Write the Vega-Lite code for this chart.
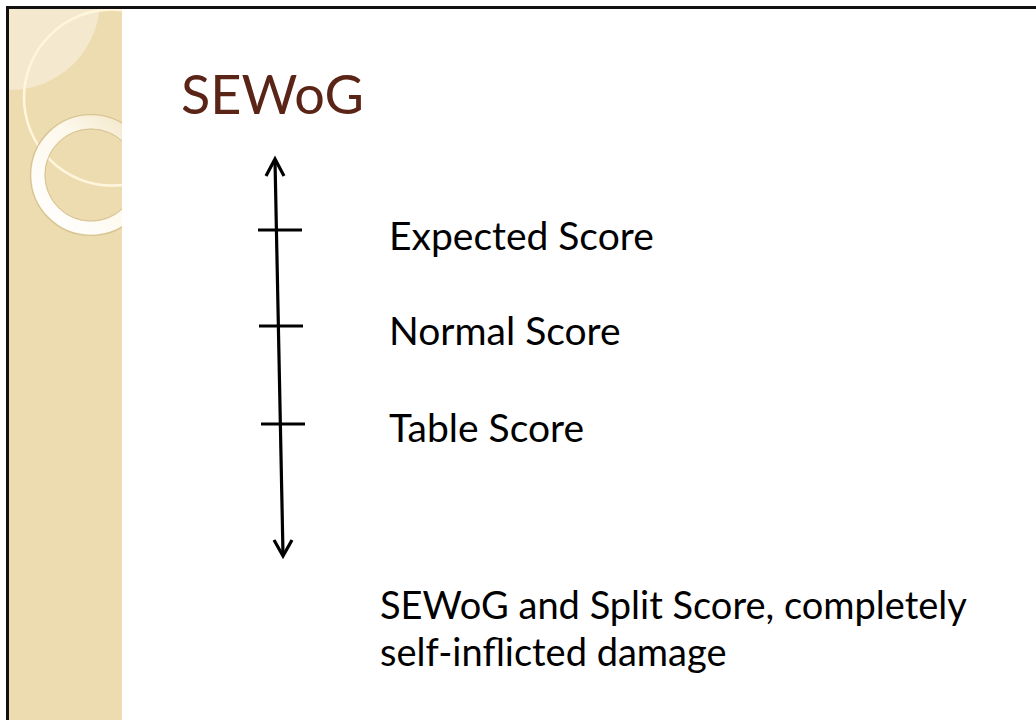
{
  "$schema": "https://vega.github.io/schema/vega-lite/v6.json",
  "width": 1036,
  "height": 720,
  "autosize": {"type": "none"},
  "padding": 0,
  "background": "white",
  "config": {"view": {"stroke": null}},
  "datasets": {
    "strip": [{"x": 9, "x2": 122, "y": 9, "y2": 720}],
    "lightDisc": [{"x": 10, "y": 0}],
    "thinRing": [{"x": 112, "y": 97.5}],
    "thickRing": [{"x": 91, "y": 175}],
    "whiteRects": [
      {"x": 122, "x2": 1036, "y": 0, "y2": 720},
      {"x": 0, "x2": 6, "y": 0, "y2": 720},
      {"x": 0, "x2": 1036, "y": 0, "y2": 6}
    ],
    "border": [
      {"x": 6, "x2": 1036, "y": 7.5, "y2": 7.5},
      {"x": 7.5, "x2": 7.5, "y": 6, "y2": 720}
    ],
    "shaft": [{"x": 275, "y": 160, "x2": 283, "y2": 554}],
    "ticks": [
      {"x": 258, "x2": 302, "y": 230, "y2": 230},
      {"x": 259, "x2": 303, "y": 326, "y2": 326},
      {"x": 261, "x2": 305, "y": 424, "y2": 424}
    ],
    "heads": [
      {"g": "top", "o": 1, "x": 266, "y": 176},
      {"g": "top", "o": 2, "x": 275, "y": 159},
      {"g": "top", "o": 3, "x": 284, "y": 176},
      {"g": "bottom", "o": 1, "x": 274, "y": 540},
      {"g": "bottom", "o": 2, "x": 283, "y": 556},
      {"g": "bottom", "o": 3, "x": 292, "y": 540}
    ],
    "title": [{"x": 181, "y": 114, "text": "SEWoG"}],
    "labels": [
      {"x": 389, "y": 250, "text": "Expected Score"},
      {"x": 389, "y": 345, "text": "Normal Score"},
      {"x": 389, "y": 442, "text": "Table Score"}
    ],
    "bottom": [
      {"x": 380, "y": 619, "text": "SEWoG and Split Score, completely"},
      {"x": 380, "y": 666, "text": "self-inflicted damage"}
    ]
  },
  "encoding": {
    "x": {"field": "x", "type": "quantitative", "scale": {"domain": [0, 1036], "nice": false, "zero": false}, "axis": null},
    "y": {"field": "y", "type": "quantitative", "scale": {"domain": [0, 720], "nice": false, "zero": false, "reverse": true}, "axis": null}
  },
  "layer": [
    {
      "data": {"name": "strip"},
      "mark": {"type": "rect", "color": "#EEDCB1"},
      "encoding": {"x2": {"field": "x2"}, "y2": {"field": "y2"}}
    },
    {
      "data": {"name": "lightDisc"},
      "mark": {"type": "point", "shape": "circle", "size": 32400, "filled": true, "color": "#F4E9CF", "opacity": 1, "strokeWidth": 0}
    },
    {
      "data": {"name": "thinRing"},
      "mark": {"type": "point", "shape": "circle", "size": 30976, "filled": false, "fill": null, "color": "#FFF6DD", "stroke": "#FFF6DD", "strokeWidth": 2.5, "opacity": 1}
    },
    {
      "data": {"name": "thickRing"},
      "mark": {"type": "point", "shape": "circle", "size": 14641, "filled": false, "fill": null, "stroke": "#D6C497", "strokeWidth": 1.2, "opacity": 1}
    },
    {
      "data": {"name": "thickRing"},
      "mark": {
        "type": "point", "shape": "circle", "size": 11236, "filled": false, "fill": null, "opacity": 1, "strokeWidth": 13,
        "stroke": {"gradient": "linear", "x1": 0, "y1": 1, "x2": 1, "y2": 0, "stops": [{"offset": 0, "color": "#FFFFFF"}, {"offset": 0.6, "color": "#FDF8EC"}, {"offset": 1, "color": "#F2E5C4"}]}
      }
    },
    {
      "data": {"name": "thickRing"},
      "mark": {"type": "point", "shape": "circle", "size": 8464, "filled": false, "fill": null, "stroke": "#D6C497", "strokeWidth": 1, "opacity": 1}
    },
    {
      "data": {"name": "whiteRects"},
      "mark": {"type": "rect", "color": "#FFFFFF"},
      "encoding": {"x2": {"field": "x2"}, "y2": {"field": "y2"}}
    },
    {
      "data": {"name": "border"},
      "mark": {"type": "rule", "color": "#111111", "strokeWidth": 3},
      "encoding": {"x2": {"field": "x2"}, "y2": {"field": "y2"}}
    },
    {
      "data": {"name": "shaft"},
      "mark": {"type": "rule", "color": "#000000", "strokeWidth": 3.2},
      "encoding": {"x2": {"field": "x2"}, "y2": {"field": "y2"}}
    },
    {
      "data": {"name": "ticks"},
      "mark": {"type": "rule", "color": "#000000", "strokeWidth": 3},
      "encoding": {"x2": {"field": "x2"}, "y2": {"field": "y2"}}
    },
    {
      "data": {"name": "heads"},
      "mark": {"type": "line", "color": "#000000", "strokeWidth": 3.2, "strokeJoin": "miter", "strokeCap": "butt"},
      "encoding": {"detail": {"field": "g"}, "order": {"field": "o", "type": "quantitative"}}
    },
    {
      "data": {"name": "title"},
      "mark": {"type": "text", "font": "Lato", "fontSize": 54, "color": "#5A2416", "align": "left", "baseline": "alphabetic"},
      "encoding": {"text": {"field": "text"}}
    },
    {
      "data": {"name": "labels"},
      "mark": {"type": "text", "font": "Lato", "fontSize": 39, "color": "#000000", "align": "left", "baseline": "alphabetic"},
      "encoding": {"text": {"field": "text"}}
    },
    {
      "data": {"name": "bottom"},
      "mark": {"type": "text", "font": "Lato", "fontSize": 38, "color": "#000000", "align": "left", "baseline": "alphabetic"},
      "encoding": {"text": {"field": "text"}}
    }
  ]
}
